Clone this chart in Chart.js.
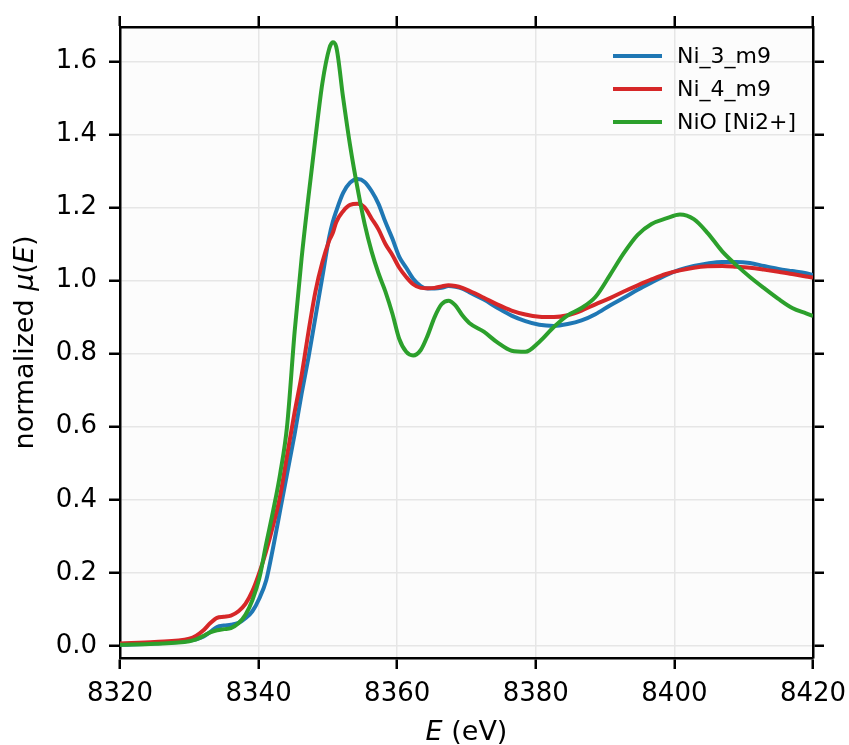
<!DOCTYPE html>
<html>
<head>
<meta charset="utf-8">
<title>Ni K-edge XANES</title>
<script src="https://cdn.jsdelivr.net/npm/chart.js@4.4.1/dist/chart.umd.min.js"></script>
<style>
  body { margin: 0; background: #fff; }
  #grafico { display: block; }
</style>
</head>
<body>
<canvas id="grafico" width="849" height="745"></canvas>
<script>
// energia (eV) e mu(E) normalizado
const energia = [
  8320, 8325, 8330, 8331, 8332, 8333, 8334, 8335, 8336, 8337.1,
  8338.1, 8339.1, 8340.1, 8341.1, 8342.1, 8343.1, 8344.1, 8345.2, 8346.2, 8347.2,
  8348.2, 8349.2, 8350.2, 8350.7, 8351.2, 8352.2, 8353.2, 8354.3, 8355.3, 8356.3,
  8357.3, 8358.3, 8359.3, 8360.3, 8361.3, 8362.3, 8363.4, 8364.4, 8365.4, 8366.4,
  8367.4, 8368.4, 8369.4, 8370.4, 8372.5, 8374.5, 8376.5, 8378.5, 8380.5, 8382.6,
  8384.6, 8386.6, 8388.6, 8390.7, 8392.7, 8394.7, 8396.7, 8398.8, 8400.8, 8402.8,
  8404.8, 8406.9, 8408.9, 8410.9, 8412.9, 8415, 8417, 8419, 8420
];

const ni3m9 = [
  0.003, 0.007, 0.014, 0.018, 0.025, 0.038, 0.052, 0.056, 0.058, 0.063,
  0.076, 0.095, 0.13, 0.18, 0.27, 0.37, 0.47, 0.58, 0.69, 0.79,
  0.9, 1.01, 1.12, 1.16, 1.19, 1.24, 1.268, 1.278, 1.27, 1.245,
  1.21, 1.16, 1.115, 1.065, 1.035, 1.005, 0.985, 0.978, 0.978, 0.98,
  0.985, 0.983, 0.978, 0.968, 0.948, 0.925, 0.904, 0.889, 0.879, 0.876,
  0.881, 0.891, 0.908, 0.932, 0.953, 0.975, 0.995, 1.015, 1.03, 1.04,
  1.047, 1.051, 1.051, 1.048, 1.04, 1.032, 1.026, 1.02, 1.015
];

const ni4m9 = [
  0.007, 0.011, 0.02, 0.028, 0.042, 0.062, 0.077, 0.08, 0.083, 0.095,
  0.115, 0.15, 0.2, 0.26, 0.33, 0.41, 0.52, 0.64, 0.74, 0.86,
  0.97, 1.05, 1.11, 1.13, 1.16, 1.19, 1.207, 1.21, 1.2, 1.17,
  1.14, 1.1, 1.07, 1.035, 1.01, 0.99, 0.98, 0.979, 0.98, 0.984,
  0.987, 0.985, 0.98, 0.972, 0.953, 0.934, 0.918, 0.907, 0.901, 0.9,
  0.905, 0.918, 0.935, 0.952, 0.97, 0.987, 1.003, 1.018, 1.028, 1.035,
  1.039, 1.04, 1.038, 1.035, 1.03, 1.024, 1.018, 1.011, 1.008
];

const nio = [
  0.003, 0.006, 0.013, 0.018, 0.027, 0.037, 0.043, 0.046, 0.049, 0.062,
  0.085, 0.125, 0.185, 0.28, 0.37, 0.47, 0.6, 0.86, 1.06, 1.23,
  1.39, 1.54, 1.635, 1.652, 1.64, 1.5, 1.37, 1.25, 1.155, 1.08,
  1.02, 0.97, 0.91, 0.84, 0.805, 0.795, 0.81, 0.85, 0.9, 0.935,
  0.945, 0.932, 0.905, 0.884, 0.86, 0.83, 0.808, 0.805, 0.832, 0.873,
  0.905, 0.925, 0.955, 1.015, 1.075, 1.125, 1.155, 1.17, 1.181, 1.168,
  1.13, 1.08, 1.043, 1.01, 0.98, 0.95, 0.925, 0.91, 0.903
];

const nomesSeries = ["Ni_3_m9", "Ni_4_m9", "NiO [Ni2+]"];
const coresSeries = ["#1f77b4", "#d62728", "#2ca02c"];
const ticksX = [8320, 8340, 8360, 8380, 8400, 8420];
const ticksY = [0.0, 0.2, 0.4, 0.6, 0.8, 1.0, 1.2, 1.4, 1.6];

const FONTE = "'DejaVu Sans', sans-serif";

function pontos(valores) {
  return energia.map((e, i) => ({ x: e, y: valores[i] }));
}

const fundoPlot = {
  id: "fundoPlot",
  beforeDraw(chart) {
    const { ctx, chartArea: a } = chart;
    ctx.save();
    ctx.fillStyle = "#fcfcfc";
    ctx.fillRect(a.left, a.top, a.right - a.left, a.bottom - a.top);
    ctx.restore();
  }
};

const legendaInterna = {
  id: "legendaInterna",
  afterDraw(chart) {
    const { ctx } = chart;
    ctx.save();
    ctx.font = "22px " + FONTE;
    ctx.textBaseline = "middle";
    ctx.textAlign = "left";
    chart.data.datasets.forEach((ds, i) => {
      const y = 56 + i * 33;
      ctx.strokeStyle = ds.borderColor;
      ctx.lineWidth = 4;
      ctx.beginPath();
      ctx.moveTo(613, y);
      ctx.lineTo(662, y);
      ctx.stroke();
      ctx.fillStyle = "#000";
      ctx.fillText(ds.label, 677, y + 1);
    });
    ctx.restore();
  }
};

function textoMisto(ctx, partes, cx, y) {
  let total = 0;
  partes.forEach((p) => {
    ctx.font = p.f;
    p.w = ctx.measureText(p.t).width;
    total += p.w;
  });
  let x = cx - total / 2;
  partes.forEach((p) => {
    ctx.font = p.f;
    ctx.fillText(p.t, x, y);
    x += p.w;
  });
}

const rotulosEixos = {
  id: "rotulosEixos",
  afterDraw(chart) {
    const { ctx, chartArea: a } = chart;
    const normal = "27px " + FONTE;
    const italico = "italic 27px " + FONTE;
    ctx.save();
    ctx.fillStyle = "#000";
    ctx.textBaseline = "alphabetic";
    ctx.textAlign = "left";
    textoMisto(ctx, [{ t: "E", f: italico }, { t: " (eV)", f: normal }], (a.left + a.right) / 2, 740);
    ctx.translate(33, (a.top + a.bottom) / 2);
    ctx.rotate(-Math.PI / 2);
    textoMisto(ctx, [
      { t: "normalized ", f: normal },
      { t: "\u03bc", f: italico },
      { t: "(", f: normal },
      { t: "E", f: italico },
      { t: ")", f: normal }
    ], 0, 0);
    ctx.restore();
  }
};

function eixo(posicao, largura, comRotulos) {
  const horizontal = posicao === "bottom" || posicao === "top";
  return {
    type: "linear",
    position: posicao,
    min: horizontal ? 8320 : -0.033,
    max: horizontal ? 8420 : 1.694,
    afterBuildTicks: (s) => {
      s.ticks = (horizontal ? ticksX : ticksY).map((v) => ({ value: v }));
    },
    afterFit: (s) => {
      if (horizontal) s.height = largura;
      else s.width = largura;
      // sem folga extra para os rótulos nas pontas
      s.paddingLeft = 0;
      s.paddingRight = 0;
      s.paddingTop = 0;
      s.paddingBottom = 0;
    },
    border: { display: true, color: "#000", width: 2.5 },
    grid: {
      color: comRotulos ? "#e6e6e6" : "rgba(0,0,0,0)",
      drawOnChartArea: comRotulos,
      lineWidth: 1.5,
      tickColor: "#000",
      tickLength: 11,
      tickWidth: 2.5
    },
    ticks: {
      display: comRotulos,
      color: "#000",
      padding: horizontal ? 10 : 12,
      font: { family: FONTE, size: 26 },
      callback: (v) => horizontal ? String(v) : v.toFixed(1)
    }
  };
}

new Chart(document.getElementById("grafico"), {
  type: "line",
  data: {
    datasets: [ni3m9, ni4m9, nio].map((serie, i) => ({
      label: nomesSeries[i],
      data: pontos(serie),
      borderColor: coresSeries[i],
      backgroundColor: coresSeries[i],
      borderWidth: 4,
      pointRadius: 0,
      cubicInterpolationMode: "monotone",
      fill: false,
      order: 2 - i,
      xAxisID: "x",
      yAxisID: "y"
    }))
  },
  options: {
    responsive: false,
    animation: false,
    devicePixelRatio: 1,
    layout: { padding: 0 },
    plugins: {
      legend: { display: false },
      tooltip: { enabled: false }
    },
    scales: {
      x: eixo("bottom", 87, true),
      y: eixo("left", 120, true),
      x2: eixo("top", 27, false),
      y2: eixo("right", 36, false)
    }
  },
  plugins: [fundoPlot, legendaInterna, rotulosEixos]
});
</script>
</body>
</html>
